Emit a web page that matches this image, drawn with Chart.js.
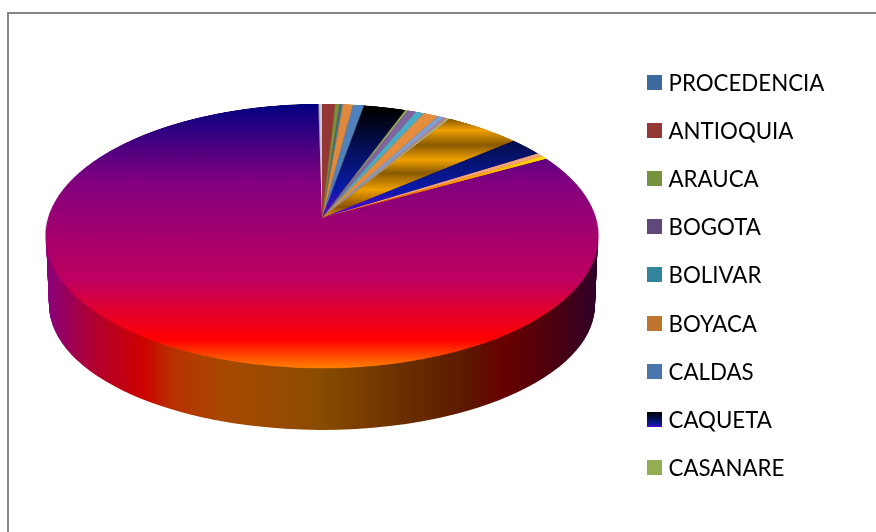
<!DOCTYPE html>
<html>
<head>
<meta charset="utf-8">
<script src="https://cdn.jsdelivr.net/npm/chart.js@4"></script>
<style>
  html, body { margin: 0; background: #fff; overflow: hidden; }
  #page { position: relative; width: 876px; height: 532px; overflow: hidden; }
  #frame { position: absolute; left: 7px; top: 12px; width: 880px; height: 540px; border: 2px solid #868686; }
  #baseChart { position: absolute; left: 0; top: 0; }
  /* the face of the pie is a flat circle tipped back in real perspective */
  #topChart {
    position: absolute;
    left: 22px; top: -82px;
    transform-origin: 300px 300px;
    transform: perspective(1766px) rotateX(61.73deg);
  }
  #legend { position: absolute; left: 647px; top: 58px; font: 22.3px Lato, sans-serif; color: #000; }
  .row { position: absolute; left: 0; white-space: nowrap; line-height: 48px; height: 48px; }
  .box { position: absolute; left: 0; top: 17px; width: 15px; height: 15px; }
  .txt { position: absolute; left: 21.5px; top: 1px; }
</style>
</head>
<body>
<div id="page">
  <div id="frame"></div>
  <canvas id="baseChart" width="876" height="532"></canvas>
  <canvas id="topChart" width="600" height="600"></canvas>
  <div id="legend"></div>
</div>
<script>
const categories = ["PROCEDENCIA", "ANTIOQUIA", "ARAUCA", "BOGOTA", "BOLIVAR", "BOYACA", "CALDAS", "CAQUETA", "CASANARE",
  "10", "11", "12", "13", "14", "15", "16", "17", "18", "19", "20", "21"];
const values = [0, 0.88, 0.29, 0.08, 0.14, 0.67, 0.73, 2.80, 0.15,
  0.58, 0.55, 1.01, 0.47, 0.18, 0.18, 5.08, 2.25, 0.45, 0.42, 82.87, 0.22];
const colors = ["#3d6a9e", "#953735", "#76923c", "#5f497a", "#31849b", "#e0883c", "#4f81bd", "caqueta", "#9bbb59",
  "#8064a2", "#4bacc6", "#e58d3f", "#7f9fd0", "#c0808a", "#a5b880", "gold", "caqueta", "#f2a27c", "yellow", "body", "#c8ccd8"];
const legendColors = ["#3d6a9e", "#953735", "#76923c", "#5f497a", "#31849b", "#c0752f", "#4a76ae",
  "linear-gradient(#000 0%, #04105c 50%, #0a1aa8 85%, #6a00d0 100%)", "#93ad53"];

const bodyStops = [[104, "#000080"], [180, "#7f007f"], [280, "#bf0060"], [340, "#ff0000"], [368, "#ff8000"]];
const caquetaStops = [[110, "#000000"], [150, "#04105c"], [190, "#0a1aa8"], [218, "#6a00d0"]];
const goldStops = [[118, "#7a5000"], [130, "#f0a000"], [145, "#8a5a00"], [160, "#f0a000"], [173, "#8a5a00"],
  [190, "#f0a000"], [207, "#8a5000"], [218, "#f0a000"]];
const yellowStops = [[158, "#ffd800"], [190, "#ff8000"], [218, "#e00000"]];
const rimStops = [[46, "#8a0078"], [90, "#b00030"], [140, "#cc0000"], [170, "#b83000"], [220, "#a84800"],
  [320, "#8a4c00"], [400, "#6a3000"], [470, "#5c1800"], [505, "#680000"], [560, "#4a0010"], [598, "#300028"]];

const COS = 0.4737, K = 0.000499, APEX_Y = 218;

// screen y on the face -> y on the flat canvas, so gradient bands land where they do in the picture
function faceY(y) {
  const dy = y - APEX_Y;
  return 300 + dy / (COS + K * dy);
}

function faceGradient(ctx, stops) {
  const top = faceY(stops[0][0]), bottom = faceY(stops[stops.length - 1][0]);
  const g = ctx.createLinearGradient(0, top, 0, bottom);
  stops.forEach(s => g.addColorStop((faceY(s[0]) - top) / (bottom - top), s[1]));
  return g;
}

const topCtx = document.getElementById("topChart").getContext("2d");
const named = {
  caqueta: faceGradient(topCtx, caquetaStops),
  gold: faceGradient(topCtx, goldStops),
  yellow: faceGradient(topCtx, yellowStops),
  body: faceGradient(topCtx, bodyStops)
};

new Chart(topCtx, {
  type: "pie",
  data: {
    labels: categories,
    datasets: [{
      data: values,
      backgroundColor: colors.map(c => named[c] || c),
      borderWidth: 0
    }]
  },
  options: {
    responsive: false,
    animation: false,
    layout: { padding: 26 },
    plugins: { legend: { display: false }, tooltip: { enabled: false } }
  }
});

// the side wall: the same pie squashed to an ellipse and repeated downwards
const rimPlugin = {
  id: "rim",
  beforeDatasetsDraw(chart) {
    const ctx = chart.ctx, arcs = chart.getDatasetMeta(0).data, a = arcs[0];
    for (let i = 0; i <= 69; i++) {
      const f = i / 69;
      ctx.save();
      ctx.translate(322, 236 + 69 * f);
      ctx.scale((276 - 3 * f) / a.outerRadius, (132 - 7 * f) / a.outerRadius);
      ctx.translate(-a.x, -a.y);
      arcs.forEach(el => el.draw(ctx));
      ctx.restore();
    }
    return false;
  }
};

// gradient is laid out in the chart's own x, since the wall is drawn through the squash above
function rimFill(c) {
  const area = c.chart.chartArea;
  if (!area) return "#8a4c00";
  const r = Math.min(area.right - area.left, area.bottom - area.top) / 2;
  const cx = (area.left + area.right) / 2;
  const g = c.chart.ctx.createLinearGradient(cx - r, 0, cx + r, 0);
  rimStops.forEach(s => g.addColorStop((s[0] - 46) / (598 - 46), s[1]));
  return g;
}

new Chart(document.getElementById("baseChart").getContext("2d"), {
  type: "pie",
  data: {
    labels: categories,
    datasets: [{ data: values, backgroundColor: rimFill, borderWidth: 0 }]
  },
  options: {
    responsive: false,
    animation: false,
    plugins: { legend: { display: false }, tooltip: { enabled: false } }
  },
  plugins: [rimPlugin]
});

// only the first nine names fit in the legend of the original
const legendEl = document.getElementById("legend");
legendColors.forEach((c, i) => {
  const row = document.createElement("div");
  row.className = "row";
  row.style.top = (i * 48.1) + "px";
  row.innerHTML = '<span class="box" style="background:' + c + '"></span><span class="txt">' + categories[i] + "</span>";
  legendEl.appendChild(row);
});
</script>
</body>
</html>
